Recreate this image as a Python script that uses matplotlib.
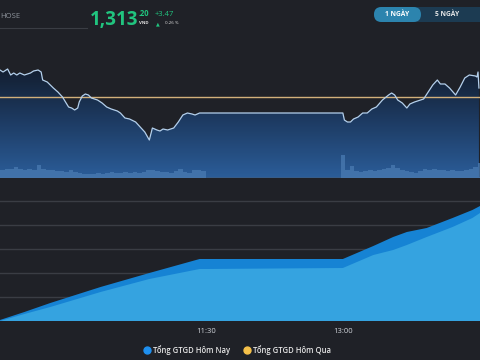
import numpy as np
import matplotlib
matplotlib.use('Agg')
import matplotlib.pyplot as plt
import matplotlib.patches as mpatches
from matplotlib.colors import LinearSegmentedColormap
from matplotlib.lines import Line2D

BG = '#1f2127'

# intraday index (minutes after 9:15)
price_t = [0, 2, 5, 7, 9, 11, 13, 16, 20, 22, 25, 27, 28, 31, 33, 35, 38, 41, 43, 45,
           47, 49, 51, 52, 54, 56, 58, 60, 64, 67, 70, 73, 77, 79, 82, 85, 89, 92, 95, 98,
           100, 103, 105, 107, 110, 114, 117, 120, 123, 126, 128, 131, 135, 225, 226, 228, 230, 232, 235, 238,
           241, 244, 247, 251, 255, 257, 259, 261, 264, 267, 269, 272, 276, 278, 281, 284, 287, 289, 292, 295,
           299, 302, 305, 308, 312, 313, 313.7, 314.3]
price_v = [1314.05, 1313.73, 1314.21, 1313.25, 1313.57, 1313.25, 1313.57, 1313.25, 1313.57, 1313.89,
           1314.05, 1313.73, 1312.45, 1312.13, 1311.65, 1311.17, 1310.53, 1309.73, 1308.93, 1308.13,
           1307.97, 1307.65, 1307.97, 1308.93, 1309.89, 1310.21, 1310.05, 1309.57, 1309.25, 1308.77,
           1308.13, 1307.81, 1307.49, 1307.17, 1306.37, 1306.21, 1305.73, 1304.93, 1304.13, 1302.85,
           1304.77, 1304.45, 1304.29, 1304.61, 1304.45, 1304.77, 1305.73, 1306.85, 1307.17, 1307.01,
           1306.85, 1307.17, 1307.17, 1307.17, 1306.05, 1305.73, 1305.73, 1306.21, 1306.53, 1307.17,
           1307.17, 1307.81, 1308.13, 1309.25, 1310.05, 1310.37, 1310.05, 1309.25, 1308.77, 1307.97,
           1308.61, 1308.93, 1309.25, 1309.41, 1310.53, 1311.65, 1312.45, 1311.81, 1311.81, 1311.17,
           1310.05, 1311.33, 1312.77, 1313.25, 1313.09, 1312.93, 1313.73, 1311.17]
ref_price = 1309.73

vol_am = [8, 9, 9, 11, 9, 8, 9, 8, 13, 9, 8, 8, 7, 7, 6, 8, 6, 5, 4, 4, 4, 5, 4,
          5, 6, 5, 5, 6, 5, 6, 5, 6, 8, 8, 7, 6, 6, 5, 7, 9, 6, 5, 8, 8, 7]
vol_pm = [23, 8, 12, 7, 6, 7, 8, 7, 8, 9, 10, 13, 10, 8, 7, 6, 5, 7, 9, 8,
          9, 8, 8, 7, 8, 7, 7, 8, 9, 11, 15]

# cumulative trading value
gt_t = [0, 16, 33, 66, 98, 131, 135, 225, 245, 258, 267, 280, 297, 310, 315]
gtgd_tong = [208, 1875, 3750, 7083, 10000, 12917, 12917, 12917,
             15625, 17500, 18542, 19375, 21458, 23125, 23958]
gtgd_khop = [0, 1458, 2917, 6042, 8750, 10833, 10833, 11042,
             13750, 14792, 15833, 17500, 19583, 21458, 22500]

tick_pos = [135, 225]
tick_lbl = ['11:30', '13:00']

fig = plt.figure(figsize=(4.8, 3.6), dpi=100, facecolor=BG)

# header canvas in pixel coordinates
ax0 = fig.add_axes([0, 0, 1, 1])
ax0.set_xlim(0, 480)
ax0.set_ylim(360, 0)
ax0.axis('off')
ax0.text(0, 17, 'HOSE', color='#8e949c', fontsize=5.5, va='center', family='Open Sans')
ax0.plot([0, 87], [28, 28], color='#3a3d44', lw=0.8)
green = '#21c47f'
ax0.text(90, 25, '1,313', color=green, fontsize=13.5, fontweight='bold', family='Open Sans', va='baseline')
ax0.text(139, 16, '.20', color=green, fontsize=5.5, fontweight='bold', family='Open Sans', va='baseline')
ax0.text(139, 24.5, 'VND', color='#e0e0e0', fontsize=3.2, fontweight='bold', family='Open Sans', va='baseline')
ax0.text(155, 16, '+3.47', color=green, fontsize=5.5, family='Open Sans', va='baseline')
ax0.text(156, 25, '▲', color=green, fontsize=3.5, family='DejaVu Sans', va='baseline')
ax0.text(165, 24.5, '0.26 %', color='#e0e0e0', fontsize=3.2, family='Open Sans', va='baseline')
ax0.add_patch(mpatches.FancyBboxPatch((374, 7), 130, 15, boxstyle='round,pad=0,rounding_size=7.5',
                                      fc='#1c3b52', ec='none'))
ax0.add_patch(mpatches.FancyBboxPatch((374, 7), 47, 15, boxstyle='round,pad=0,rounding_size=7.5',
                                      fc='#2c84ae', ec='none'))
ax0.text(397, 14.8, '1 NGÀY', color='white', fontsize=4.8, fontweight='bold', ha='center', va='center',
         family='Open Sans')
ax0.text(447, 14.8, '5 NGÀY', color='#e8e8e8', fontsize=4.8, fontweight='bold', ha='center', va='center',
         family='Open Sans')

# price panel
y_top, y_bot = 1315.65, 1296.77
ax = fig.add_axes([0, (360 - 178) / 360, 1, (178 - 60) / 360])
ax.set_facecolor('none')
ax.set_xlim(0, 315)
ax.set_ylim(y_bot, y_top)
ax.axis('off')
cmap = LinearSegmentedColormap.from_list('g', ['#2b5d99', '#1d3a61', '#111927'])
grad = np.linspace(0, 1, 256).reshape(-1, 1)
im = ax.imshow(grad, cmap=cmap, extent=[0, 315, y_bot, y_top], origin='lower', aspect='auto', zorder=1)
poly = ax.fill_between(price_t, price_v, y_bot, color='none', lw=0)
im.set_clip_path(poly.get_paths()[0], transform=ax.transData)
ax.axhline(ref_price, color='#d2b07a', lw=1.0, zorder=3)
ax.plot(price_t, price_v, color='#b4d0ec', lw=0.9, zorder=4)
ax.axhline(y_bot, color='#3a5d85', lw=1.2, zorder=5)

axv = ax.twinx()
axv.set_ylim(0, 118)
axv.set_xlim(0, 315)
axv.axis('off')
t_am = np.arange(len(vol_am)) * 3 + 1.5
t_pm = 225 + np.arange(len(vol_pm)) * 3
axv.bar(t_am, vol_am, width=3, color='#4a7bb2', alpha=0.75, lw=0, zorder=2)
axv.bar(t_pm, vol_pm, width=3, color='#4a7bb2', alpha=0.75, lw=0, zorder=2)

# cumulative value panel
ax2 = fig.add_axes([0, (360 - 321) / 360, 1, (321 - 198) / 360])
ax2.set_facecolor('none')
ax2.set_xlim(0, 315)
ax2.set_ylim(0, 25625)
for s in ax2.spines.values():
    s.set_visible(False)
ax2.set_yticks([5000, 10000, 15000, 20000, 25000])
ax2.tick_params(axis='y', length=0, labelleft=False)
ax2.grid(axis='y', color='#3a3d44', lw=1)
ax2.set_axisbelow(True)
ax2.fill_between(gt_t, 0, gtgd_tong, color='#1683d4', lw=0, zorder=2)
ax2.fill_between(gt_t, 0, gtgd_khop, color='#35a3e0', lw=0, zorder=3)
ax2.set_xticks(tick_pos)
ax2.set_xticklabels(tick_lbl, color='#d0d4da', fontsize=5.5, family='Open Sans')
ax2.tick_params(axis='x', length=0, pad=5)

handles = [Line2D([], [], marker='o', ls='', color='#1e90f0', markersize=5),
           Line2D([], [], marker='o', ls='', color='#f5c14a', markersize=5)]
fig.legend(handles, ['Tổng GTGD Hôm Nay', 'Tổng GTGD Hôm Qua'], loc='center',
           bbox_to_anchor=(237 / 480, 1 - 350 / 360), ncol=2, frameon=False,
           labelcolor='#e6e6e6', prop={'family': 'Open Sans', 'size': 5.5, 'weight': 'semibold'},
           handletextpad=0.2, columnspacing=1.8, handlelength=1.0)

fig.savefig('out.png', dpi=100, facecolor=BG)
